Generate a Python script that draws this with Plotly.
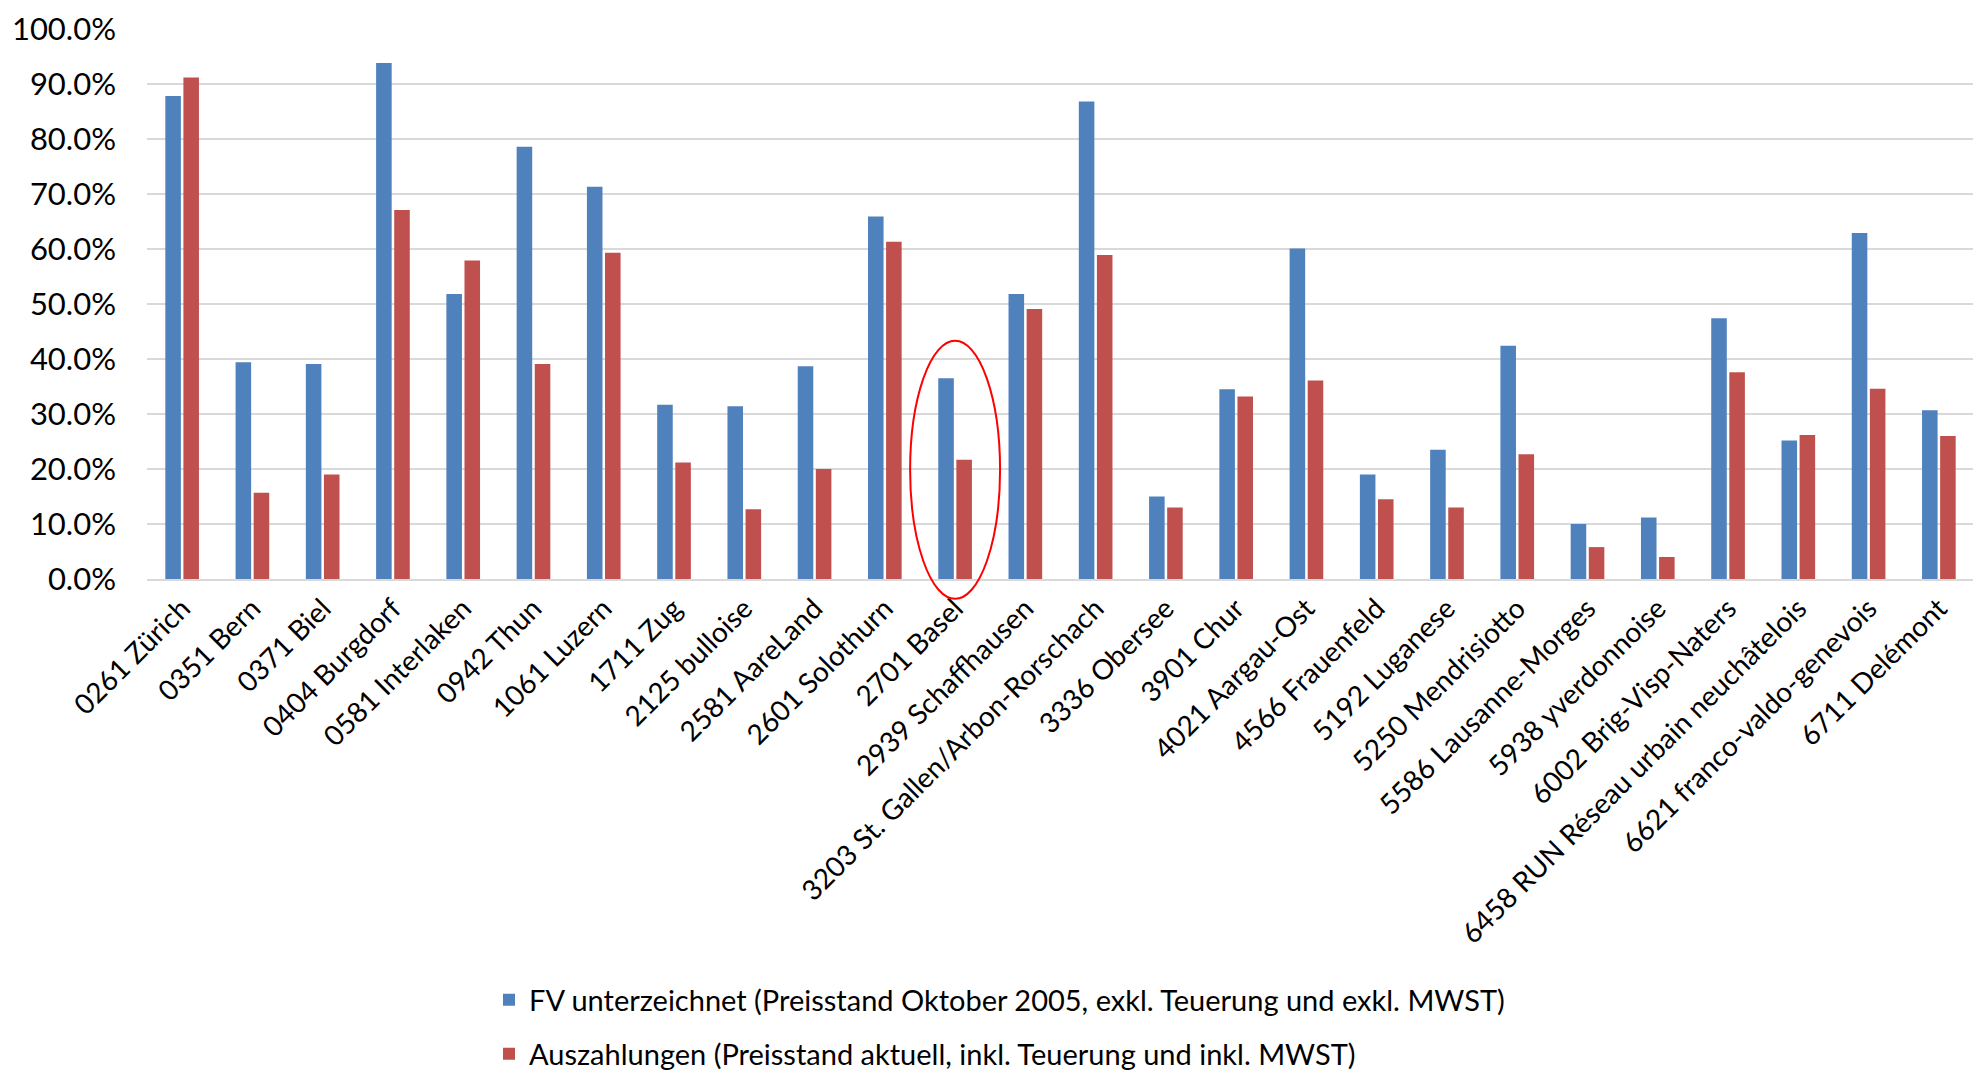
import plotly.graph_objects as go

categories = [
    "0261 Zürich", "0351 Bern", "0371 Biel", "0404 Burgdorf", "0581 Interlaken",
    "0942 Thun", "1061 Luzern", "1711 Zug", "2125 bulloise", "2581 AareLand",
    "2601 Solothurn", "2701 Basel", "2939 Schaffhausen", "3203 St. Gallen/Arbon-Rorschach",
    "3336 Obersee", "3901 Chur", "4021 Aargau-Ost", "4566 Frauenfeld", "5192 Luganese",
    "5250 Mendrisiotto", "5586 Lausanne-Morges", "5938 yverdonnoise", "6002 Brig-Visp-Naters",
    "6458 RUN Réseau urbain neuchâtelois", "6621 franco-valdo-genevois", "6711 Delémont",
]
fv_signed = [
    0.878, 0.394, 0.391, 0.938, 0.518, 0.786, 0.713, 0.317, 0.314, 0.387,
    0.659, 0.365, 0.518, 0.868, 0.150, 0.345, 0.601, 0.190, 0.235, 0.424,
    0.100, 0.112, 0.474, 0.252, 0.629, 0.307,
]
payouts = [
    0.912, 0.157, 0.190, 0.671, 0.579, 0.391, 0.593, 0.212, 0.127, 0.200,
    0.613, 0.217, 0.491, 0.589, 0.130, 0.332, 0.361, 0.145, 0.130, 0.227,
    0.058, 0.040, 0.376, 0.262, 0.346, 0.260,
]
series_names = [
    "FV unterzeichnet (Preisstand Oktober 2005, exkl. Teuerung und exkl. MWST)",
    "Auszahlungen (Preisstand aktuell, inkl. Teuerung und inkl. MWST)",
]
y_ticks = [i / 10 for i in range(11)]
highlight_category = "2701 Basel"

FONT = "Lato, 'Open Sans', sans-serif"
W, H = 1981, 1074
ML, MR, MT, MB = 139, 15, 21, 503

fig = go.Figure()
fig.add_trace(go.Bar(x=categories, y=fv_signed, name=series_names[0],
                     marker=dict(color="#4F81BD", line=dict(width=0))))
fig.add_trace(go.Bar(x=categories, y=payouts, name=series_names[1], legend="legend2",
                     marker=dict(color="#C0504D", line=dict(width=0))))

n = len(categories)
hi = categories.index(highlight_category)
fig.add_shape(type="circle", xref="paper", yref="paper",
              x0=(hi + 0.5 - 0.64) / n, x1=(hi + 0.5 + 0.64) / n,
              y0=-0.036, y1=0.433,
              line=dict(color="#FF0000", width=2), fillcolor="rgba(0,0,0,0)")

legend_common = dict(orientation="v", xanchor="left", yanchor="middle",
                     xref="container", yref="container",
                     font=dict(size=29, family=FONT, color="#000000"),
                     bgcolor="rgba(0,0,0,0)", itemwidth=30)
lx = 481 / W

fig.update_layout(
    width=W, height=H,
    margin=dict(l=ML, r=MR, t=MT, b=MB, autoexpand=False),
    paper_bgcolor="white", plot_bgcolor="white",
    barmode="group", bargap=0.485, bargroupgap=0.14,
    font=dict(family=FONT, color="#000000"),
    showlegend=True,
    legend=dict(x=lx, y=1 - 992 / H, **legend_common),
    legend2=dict(x=lx, y=1 - 1046 / H, **legend_common),
    xaxis=dict(type="category", tickangle=-45, tickfont=dict(size=28, family=FONT),
               showgrid=False, showline=True, linecolor="#D9D9D9", linewidth=2,
               ticks="", automargin=False),
    yaxis=dict(range=[0, 1.0], tickvals=y_ticks, tickformat=".1%",
               tickfont=dict(size=31, family=FONT),
               showgrid=True, gridcolor="#D9D9D9", gridwidth=2,
               zeroline=False, showline=False, ticks="",
               ticklabelstandoff=30, ticklabeloverflow="allow", automargin=False),
)

fig.write_html("out.html")
